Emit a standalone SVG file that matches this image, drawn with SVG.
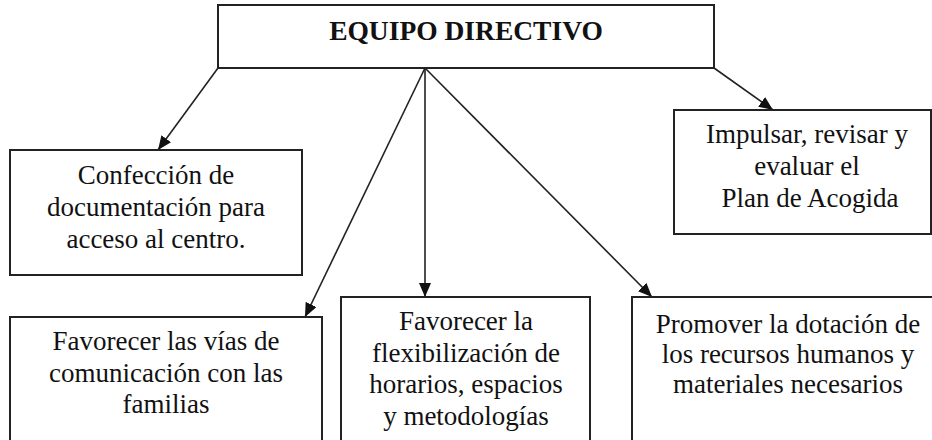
<svg xmlns="http://www.w3.org/2000/svg" width="932" height="440" viewBox="0 0 932 440">
<style>
.box{fill:#fff;stroke:#222;stroke-width:2}
.t{font-family:"Liberation Serif",Tinos,"Times New Roman",Times,"DejaVu Serif",serif;font-size:27px;fill:#111;text-anchor:middle}
.title{font-weight:bold;font-size:27.5px}
.c{stroke:#222;stroke-width:1.6;fill:none;marker-end:url(#ah)}
</style>
<defs>
<marker id="ah" markerUnits="userSpaceOnUse" markerWidth="14" markerHeight="12" viewBox="0 0 14 12" refX="14" refY="6" orient="auto">
<path d="M0,0 L14,6 L0,12 Z" fill="#111"/>
</marker>
</defs>
<rect width="932" height="440" fill="#fff"/>
<g id="connectors">
<line class="c" x1="218" y1="68" x2="158" y2="150"/>
<line class="c" x1="425" y1="68" x2="305" y2="317"/>
<line class="c" x1="425" y1="68" x2="425" y2="297"/>
<line class="c" x1="425" y1="68" x2="652" y2="297"/>
<line class="c" x1="714" y1="68" x2="773" y2="110"/>
</g>
<g id="equipo">
<rect class="box" x="218" y="5" width="496" height="63"/>
<text class="t title" x="466" y="40">EQUIPO DIRECTIVO</text>
</g>
<g id="confeccion">
<rect class="box" x="10" y="150" width="292" height="125"/>
<text class="t" x="156" y="184">Confección de</text>
<text class="t" x="156" y="216">documentación para</text>
<text class="t" x="156" y="248">acceso al centro.</text>
</g>
<g id="impulsar">
<rect class="box" x="674" y="110" width="257" height="124"/>
<text class="t" x="807" y="143">Impulsar, revisar y</text>
<text class="t" x="807" y="175">evaluar el</text>
<text class="t" x="810" y="207">Plan de Acogida</text>
</g>
<g id="vias">
<rect class="box" x="10" y="317" width="312" height="140"/>
<text class="t" x="166" y="350">Favorecer las vías de</text>
<text class="t" x="166" y="382">comunicación con las</text>
<text class="t" x="166" y="413">familias</text>
</g>
<g id="flex">
<rect class="box" x="341" y="297" width="249" height="160"/>
<text class="t" x="466" y="330">Favorecer la</text>
<text class="t" x="466" y="362">flexibilización de</text>
<text class="t" x="466" y="393">horarios, espacios</text>
<text class="t" x="466" y="425">y metodologías</text>
</g>
<g id="promover">
<rect class="box" x="632" y="297" width="320" height="160"/>
<text class="t" x="788" y="333">Promover la dotación de</text>
<text class="t" x="788" y="363">los recursos humanos y</text>
<text class="t" x="788" y="393">materiales necesarios</text>
</g>
</svg>
